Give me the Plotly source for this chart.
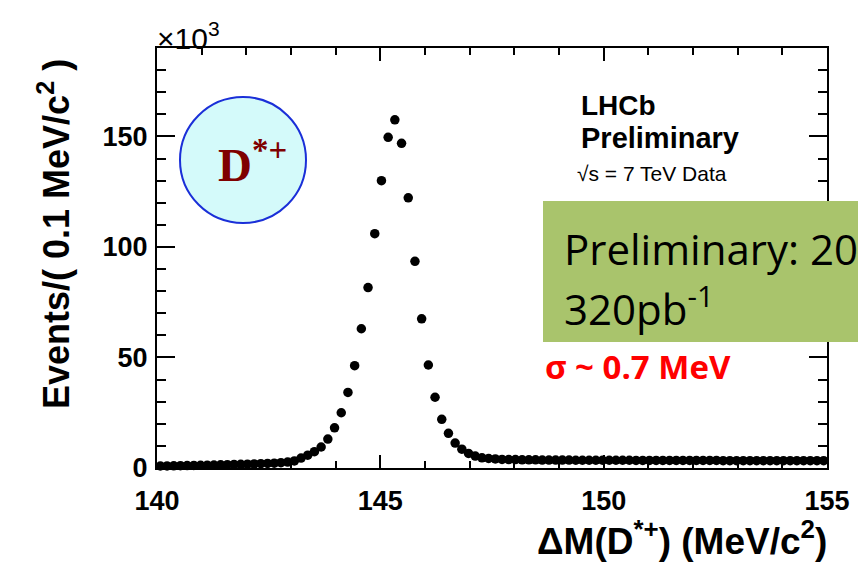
import plotly.graph_objects as go

# Bin centres (0.15 MeV wide bins from 140 to 155 MeV/c^2)
bin_start = 140.075
bin_width = 0.15
counts_k = [
    0.9, 0.95, 1.0, 1.05, 1.1, 1.15, 1.2, 1.3, 1.35, 1.45,
    1.5, 1.6, 1.65, 1.75, 1.85, 1.95, 2.05, 2.2, 2.4, 2.7,
    3.2, 4.5, 5.8, 7.4, 9.5, 13.1, 18.2, 25.0, 34.2, 46.3,
    63.0, 81.6, 106.0, 130.0, 149.6, 157.5, 146.9, 122.2, 93.5, 67.5,
    46.6, 32.0, 22.0, 15.7, 11.3, 8.5, 6.6, 5.4, 4.6, 4.3,
    4.1, 3.9, 3.8, 3.8, 3.7, 3.7, 3.7, 3.6, 3.6, 3.6,
    3.6, 3.6, 3.5, 3.5, 3.5, 3.5, 3.5, 3.5, 3.5, 3.5,
    3.5, 3.4, 3.4, 3.4, 3.4, 3.4, 3.4, 3.4, 3.4, 3.4,
    3.4, 3.4, 3.4, 3.4, 3.3, 3.3, 3.3, 3.3, 3.3, 3.3,
    3.3, 3.3, 3.3, 3.3, 3.3, 3.3, 3.3, 3.3, 3.3, 3.3,
]
delta_m = [round(bin_start + bin_width * i, 3) for i in range(len(counts_k))]

x_ticks = [140, 145, 150, 155]
y_ticks = [0, 50, 100, 150]

W, H = 858, 562
L, R, T, B = 157, 31, 48, 94
pw, ph = W - L - R, H - T - B


def px(x):
    return (x - L) / pw


def py(y):
    return (H - B - y) / ph


fig = go.Figure()
fig.add_trace(go.Scatter(
    x=delta_m, y=counts_k, mode="markers",
    marker=dict(size=9.5, color="black"),
    showlegend=False, cliponaxis=False,
))

axis_font = dict(family="Liberation Sans, Arial", size=27, color="black", weight="bold")

fig.update_layout(
    width=W, height=H,
    margin=dict(l=L, r=R, t=T, b=B, autoexpand=False),
    paper_bgcolor="white", plot_bgcolor="white",
    xaxis=dict(
        range=[140, 155], tickvals=x_ticks, ticktext=[str(v) for v in x_ticks],
        ticks="inside", ticklen=13, tickwidth=1.5, tickcolor="black",
        minor=dict(dtick=1, ticks="inside", ticklen=7, tickwidth=1.5, tickcolor="black"),
        showline=True, linecolor="black", linewidth=2, mirror="allticks",
        showgrid=False, zeroline=False, tickfont=axis_font, ticklabelstandoff=8,
        automargin=False,
    ),
    yaxis=dict(
        range=[0, 190], tickvals=y_ticks, ticktext=[str(v) for v in y_ticks],
        ticks="inside", ticklen=18, tickwidth=1.5, tickcolor="black",
        minor=dict(dtick=10, ticks="inside", ticklen=9, tickwidth=1.5, tickcolor="black"),
        showline=True, linecolor="black", linewidth=2, mirror="allticks",
        showgrid=False, zeroline=False, tickfont=axis_font, ticklabelstandoff=2,
        automargin=False,
    ),
)

# D*+ circle
fig.add_shape(type="circle", xref="paper", yref="paper",
              x0=px(180), x1=px(306), y0=py(223), y1=py(97),
              fillcolor="#d4fafa", line=dict(color="#1a2fd8", width=2), layer="above")
# green box
fig.add_shape(type="rect", xref="paper", yref="paper",
              x0=px(543), x1=px(875), y0=py(342), y1=py(201),
              fillcolor="#a9c46c", line=dict(width=0), layer="above")

ann = []
ann.append(dict(text="D<sup>*+</sup>", x=px(252), y=py(161), xanchor="center", yanchor="middle",
                font=dict(family="Liberation Serif, Times New Roman", size=47, color="#7f0000", weight="bold")))
ann.append(dict(text="×10<sup>3</sup>", x=px(155), y=py(36), xanchor="left", yanchor="middle",
                font=dict(family="Liberation Sans, Arial", size=30, color="black")))
ann.append(dict(text="LHCb", x=px(579), y=py(106), xanchor="left", yanchor="middle",
                font=dict(family="Liberation Sans, Arial", size=28, color="black", weight="bold")))
ann.append(dict(text="Preliminary", x=px(579), y=py(138), xanchor="left", yanchor="middle",
                font=dict(family="Liberation Sans, Arial", size=29, color="black", weight="bold")))
ann.append(dict(text="√s = 7 TeV Data", x=px(575), y=py(173), xanchor="left", yanchor="middle",
                font=dict(family="Liberation Sans, Arial", size=21, color="black")))
ann.append(dict(text="Preliminary: 2011", x=px(562), y=py(249), xanchor="left", yanchor="middle",
                font=dict(family="Open Sans, Liberation Sans", size=42, color="black")))
ann.append(dict(text="320pb<sup>-1</sup>", x=px(562), y=py(306), xanchor="left", yanchor="middle",
                font=dict(family="Open Sans, Liberation Sans", size=42, color="black")))
ann.append(dict(text="σ ~ 0.7 MeV", x=px(543), y=py(366), xanchor="left", yanchor="middle",
                font=dict(family="Open Sans, Liberation Sans", size=33, color="#ff0000", weight="bold")))
ann.append(dict(text="ΔM(D<sup>*+</sup>) (MeV/c<sup>2</sup>)", x=px(829), y=py(538), xanchor="right", yanchor="middle",
                font=dict(family="Liberation Sans, Arial", size=37, color="black", weight="bold")))
ann.append(dict(text="Events/( 0.1 MeV/c<sup>2</sup> )", x=px(54), y=py(234), xanchor="center", yanchor="middle",
                textangle=-90,
                font=dict(family="Liberation Sans, Arial", size=36, color="black", weight="bold")))
for a in ann:
    a.update(xref="paper", yref="paper", showarrow=False)
fig.update_layout(annotations=ann)

fig.write_html("out.html", config={"displayModeBar": False},
               post_script="document.body.style.margin='0';document.body.style.overflow='hidden';")
